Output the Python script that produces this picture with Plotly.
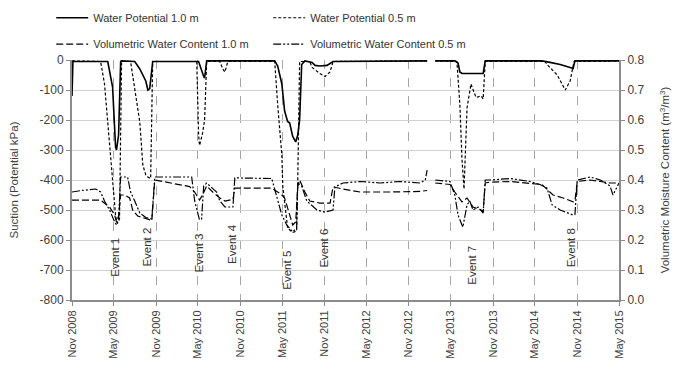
import plotly.graph_objects as go
import pandas as pd

font_family = 'Liberation Sans, Arial, sans-serif'

# ---- data (dates, kPa for suction, m3/m3 for moisture) ----
wp10_dates = ['2008-11-01', '2008-11-05', '2009-04-05', '2009-04-26', '2009-05-09', '2009-05-13', '2009-05-22',
              '2009-05-31', '2009-06-04', '2009-07-31', '2009-08-22', '2009-09-17', '2009-09-26', '2009-10-04',
              '2009-10-17', '2010-05-04', '2010-05-26', '2010-05-30', '2010-06-08', '2011-03-30', '2011-04-12',
              '2011-04-30', '2011-05-12', '2011-05-21', '2011-05-25', '2011-06-03', '2011-06-16', '2011-06-29',
              '2011-07-08', '2011-07-16', '2011-07-25', '2011-08-08', '2011-09-08', '2011-09-21', '2011-10-12',
              '2011-11-12', '2011-12-08', '2013-01-19', '2013-01-20', '2013-02-23', '2013-05-19', '2013-06-02',
              '2013-06-10', '2013-06-19', '2013-09-19', '2013-09-28', '2014-06-01', '2014-07-06', '2014-08-19',
              '2014-10-01', '2014-10-14', '2014-10-22', '2015-05-01']
wp10_vals = [-120, -5, -5, -90, -290, -300, -250,
             -5, -3, -5, -30, -70, -100, -95,
             -5, -5, -55, -60, -3, -3, -20,
             -80, -170, -195, -205, -210, -255, -273,
             -250, -200, -15, -3, -8, -18, -20,
             -18, -5, -3, None, -3, -3, -10,
             -40, -45, -45, -3, -3, -8, -15,
             -25, -28, -3, -3]

wp05_dates = ['2008-11-01', '2009-03-05', '2009-03-22', '2009-04-05', '2009-04-26', '2009-05-09', '2009-05-17',
              '2009-05-26', '2009-06-04', '2009-07-13', '2009-08-22', '2009-09-04', '2009-09-17', '2009-09-26',
              '2009-10-08', '2009-10-17', '2010-04-26', '2010-05-04', '2010-05-08', '2010-05-21', '2010-05-30',
              '2010-06-08', '2010-08-04', '2010-08-17', '2010-08-26', '2010-09-08', '2011-03-30', '2011-04-12',
              '2011-04-30', '2011-05-04', '2011-05-25', '2011-06-16', '2011-07-03', '2011-07-08', '2011-07-16',
              '2011-08-29', '2011-09-08', '2011-10-12', '2011-11-03', '2011-11-25', '2011-12-08', '2013-01-19',
              '2013-01-20', '2013-02-23', '2013-05-28', '2013-06-10', '2013-06-19', '2013-06-28', '2013-07-11',
              '2013-07-28', '2013-08-19', '2013-09-10', '2013-09-19', '2013-09-28', '2014-06-14', '2014-06-23',
              '2014-08-06', '2014-09-10', '2014-10-01', '2014-10-18', '2015-05-01']
wp05_vals = [-3, -5, -80, -220, -400, -520, -545,
             -530, -5, -5, -207, -350, -383, -390,
             -395, -5, -5, -250, -285, -245, -200,
             -5, -5, -30, -40, -5, -5, -150,
             -317, -420, -560, -575, -570, -400, -5,
             -5, -25, -45, -55, -40, -5, -3,
             None, -3, -5, -150, -330, -430, -160,
             -80, -125, -120, -130, -5, -5, -15,
             -50, -100, -70, -5, -3]

vwc10_dates = ['2008-11-01', '2009-03-05', '2009-04-13', '2009-05-05', '2009-05-13', '2009-05-22', '2009-05-31',
               '2009-06-17', '2009-07-09', '2009-07-22', '2009-08-13', '2009-09-17', '2009-10-13', '2009-10-26',
               '2009-12-31', '2010-02-12', '2010-03-26', '2010-04-17', '2010-05-08', '2010-05-21', '2010-06-08',
               '2010-07-04', '2010-08-04', '2010-08-26', '2010-09-30', '2010-10-08', '2011-03-17', '2011-04-12',
               '2011-04-30', '2011-05-12', '2011-06-03', '2011-06-16', '2011-06-29', '2011-07-08', '2011-07-16',
               '2011-08-08', '2011-08-29', '2011-10-12', '2011-11-25', '2011-12-08', '2012-01-20', '2012-04-03',
               '2012-08-11', '2012-12-20', '2013-01-19', '2013-01-20', '2013-02-23', '2013-04-28', '2013-05-19',
               '2013-06-19', '2013-07-11', '2013-08-06', '2013-09-10', '2013-09-19', '2013-09-28', '2013-10-19',
               '2014-01-15', '2014-04-10', '2014-06-01', '2014-07-19', '2014-09-01', '2014-10-14', '2014-10-22',
               '2014-11-01', '2014-12-27', '2015-02-09', '2015-03-23', '2015-05-01']
vwc10_vals = [0.333, 0.333, 0.31, 0.283, 0.26, 0.28, 0.35,
              0.35, 0.34, 0.30, 0.28, 0.27, 0.265, 0.40,
              0.39, 0.385, 0.378, 0.36, 0.333, 0.35, 0.38,
              0.36, 0.34, 0.33, 0.335, 0.373, 0.373, 0.36,
              0.35, 0.34, 0.283, 0.25, 0.26, 0.38, 0.40,
              0.36, 0.33, 0.323, 0.323, 0.377, 0.37, 0.36,
              0.36, 0.362, 0.365, None, 0.39, 0.385, 0.36,
              0.327, 0.34, 0.31, 0.30, 0.295, 0.39, 0.393,
              0.395, 0.39, 0.385, 0.35, 0.34, 0.327, 0.33,
              0.395, 0.40, 0.395, 0.39, 0.39]

vwc05_dates = ['2008-11-01', '2008-12-12', '2009-02-12', '2009-03-05', '2009-03-22', '2009-04-13', '2009-05-05',
               '2009-05-13', '2009-05-22', '2009-05-31', '2009-06-30', '2009-07-13', '2009-07-31', '2009-08-22',
               '2009-09-17', '2009-10-13', '2009-10-26', '2010-04-04', '2010-04-17', '2010-05-08', '2010-05-17',
               '2010-05-26', '2010-06-08', '2010-07-04', '2010-07-21', '2010-08-04', '2010-08-26', '2010-09-30',
               '2010-10-08', '2011-03-17', '2011-04-08', '2011-04-30', '2011-05-21', '2011-06-16', '2011-07-03',
               '2011-07-08', '2011-07-25', '2011-08-16', '2011-09-29', '2011-11-03', '2011-12-08', '2011-12-16',
               '2012-01-20', '2012-04-03', '2012-06-29', '2012-09-24', '2012-12-20', '2013-01-11', '2013-01-19',
               '2013-01-20', '2013-02-23', '2013-04-28', '2013-05-19', '2013-06-02', '2013-06-19', '2013-06-23',
               '2013-07-11', '2013-07-23', '2013-08-06', '2013-08-28', '2013-09-19', '2013-09-28', '2013-10-19',
               '2014-01-15', '2014-04-10', '2014-05-23', '2014-06-23', '2014-07-15', '2014-08-19', '2014-09-18',
               '2014-10-14', '2014-10-22', '2014-11-01', '2014-12-27', '2015-02-09', '2015-03-23', '2015-04-05',
               '2015-05-01']
vwc05_vals = [0.36, 0.365, 0.37, 0.36, 0.33, 0.30, 0.26,
              0.25, 0.27, 0.41, 0.41, 0.36, 0.33, 0.29,
              0.275, 0.27, 0.41, 0.41, 0.33, 0.267, 0.27,
              0.38, 0.39, 0.37, 0.36, 0.33, 0.31, 0.31,
              0.407, 0.405, 0.34, 0.283, 0.25, 0.227, 0.24,
              0.39, 0.38, 0.33, 0.30, 0.293, 0.30, 0.377,
              0.39, 0.395, 0.39, 0.395, 0.39, 0.40, 0.433,
              None, 0.40, 0.395, 0.35, 0.283, 0.25, 0.243,
              0.317, 0.33, 0.30, 0.31, 0.29, 0.40, 0.40,
              0.405, 0.395, 0.385, 0.373, 0.317, 0.30, 0.29,
              0.283, 0.285, 0.40, 0.41, 0.40, 0.38, 0.35,
              0.39]

event_names = ['Event 1', 'Event 2', 'Event 3', 'Event 4', 'Event 5', 'Event 6', 'Event 7', 'Event 8']
event_dates = ['2009-05-05', '2009-09-21', '2010-05-04', '2010-09-26', '2011-05-21', '2011-11-01',
               '2013-08-01', '2014-10-05']
event_label_y = [-657, -623, -643, -613, -700, -627, -683, -627]

suction_ticks = [0, -100, -200, -300, -400, -500, -600, -700, -800]
suction_labels = ['0', '-100', '-200', '-300', '-400', '-500', '-600', '-700', '-800']

tick_dates = pd.date_range('2008-11-01', '2015-05-01', freq='6MS')
tick_labels = [d.strftime('%b %Y') for d in tick_dates]

fig = go.Figure()

fig.add_trace(go.Scatter(x=wp10_dates, y=wp10_vals, name='Water Potential 1.0 m', mode='lines',
                         line=dict(color='black', width=1.6), legend='legend'))
fig.add_trace(go.Scatter(x=wp05_dates, y=wp05_vals, name='Water Potential 0.5 m', mode='lines',
                         line=dict(color='black', width=1.2, dash='3px,2px'), legend='legend'))
fig.add_trace(go.Scatter(x=vwc10_dates, y=vwc10_vals, name='Volumetric Water Content 1.0 m', mode='lines',
                         line=dict(color='black', width=1.2, dash='7px,3px'), yaxis='y2', legend='legend2'))
fig.add_trace(go.Scatter(x=vwc05_dates, y=vwc05_vals, name='Volumetric Water Content 0.5 m', mode='lines',
                         line=dict(color='black', width=1.2, dash='8px,2px,2px,2px,2px,2px'), yaxis='y2',
                         legend='legend2'))

for name, d, yv in zip(event_names, event_dates, event_label_y):
	fig.add_annotation(text=name, x=d, y=yv, xref='x', yref='y', textangle=-90, showarrow=False,
	                   font=dict(size=11.5, color='#333333', family=font_family))

legend_style = dict(orientation='h', xanchor='left', yanchor='middle', x=-0.038,
                    font=dict(size=11, color='#333333', family=font_family),
                    entrywidth=170, bgcolor='rgba(0,0,0,0)', itemwidth=32)

fig.update_layout(
	width=683,
	height=376,
	margin=dict(l=72, r=64, t=60, b=76, pad=0, autoexpand=False),
	paper_bgcolor='white',
	plot_bgcolor='white',
	font=dict(family=font_family, size=11, color='#404040'),
	showlegend=True,
	legend=dict(legend_style, y=1.176),
	legend2=dict(legend_style, y=1.066),
	xaxis=dict(
		type='date',
		range=['2008-11-01', '2015-05-01'],
		tickvals=tick_dates,
		ticktext=tick_labels,
		tickangle=-90,
		showgrid=True,
		gridcolor='#a6a6a6',
		griddash='dash',
		gridwidth=1,
		showline=True,
		linecolor='#8c8c8c',
		linewidth=2,
		ticks='outside',
		ticklen=4,
		tickcolor='#8c8c8c',
		tickfont=dict(size=11, color='#404040'),
		zeroline=False,
	),
	yaxis=dict(
		range=[-800, 0],
		tickvals=suction_ticks,
		ticktext=suction_labels,
		title=dict(text='Suction (Potential kPa)', font=dict(size=11.5, color='#404040'), standoff=19),
		showgrid=True,
		gridcolor='#d0d0d0',
		gridwidth=1.2,
		showline=True,
		linecolor='#8c8c8c',
		linewidth=2,
		ticks='outside',
		ticklen=4,
		tickcolor='#8c8c8c',
		tickfont=dict(size=12, color='#404040'),
		zeroline=False,
	),
	yaxis2=dict(
		overlaying='y',
		side='right',
		range=[0, 0.8],
		dtick=0.1,
		tickformat='.1f',
		title=dict(text='Volumetric Moisture Content (m<sup>3</sup>/m<sup>3</sup>)',
		           font=dict(size=11.5, color='#404040'), standoff=18),
		showgrid=False,
		showline=True,
		linecolor='#8c8c8c',
		linewidth=2,
		ticks='outside',
		ticklen=4,
		tickcolor='#8c8c8c',
		tickfont=dict(size=12, color='#404040'),
		zeroline=False,
	),
)

# the page body has a default 8px margin, drop it so the figure sits at the window's corner
fig.write_html('out.html', config={'displayModeBar': False},
               post_script="document.body.style.margin='0px';")
